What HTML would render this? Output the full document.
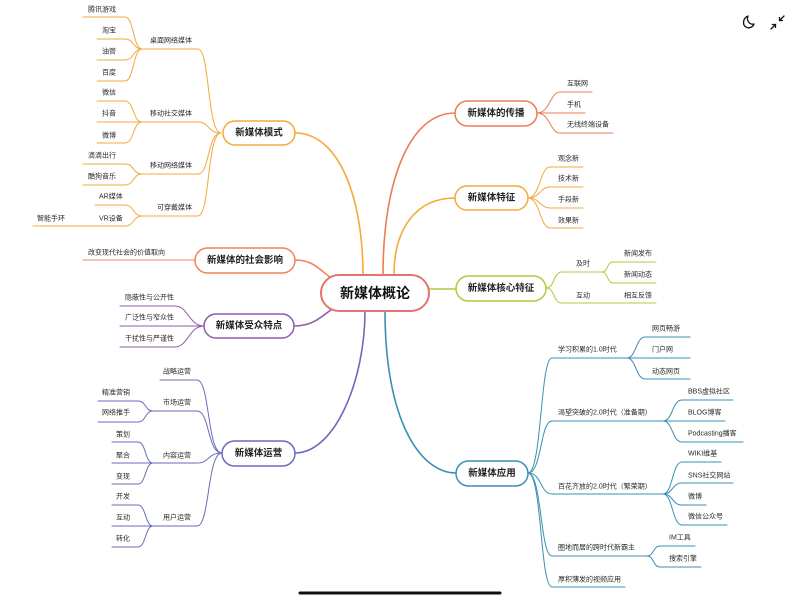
<!DOCTYPE html>
<html><head><meta charset="utf-8"><style>
html,body{margin:0;padding:0;background:#fff;}
svg{display:block;}
text{font-family:"Liberation Sans","Noto Sans CJK SC",sans-serif;fill:#2a2a2a;}
.l{font-size:7px;}
.m{font-size:9.5px;font-weight:bold;fill:#222;}
</style></head><body>
<svg width="800" height="600" viewBox="0 0 800 600" xmlns="http://www.w3.org/2000/svg">
<g fill="none" stroke-linecap="round">
<!-- main branches -->
<path d="M295 133 C340 133 363 200 363 275" stroke="#f5a83c" stroke-width="1.6"/>
<path d="M455 113 C410 113 383 180 383 275" stroke="#ec7c55" stroke-width="1.6"/>
<path d="M455 198 C415 198 394 230 394 275" stroke="#f5a83c" stroke-width="1.6"/>
<path d="M429 289 L456 289" stroke="#b3c83a" stroke-width="1.6"/>
<path d="M385 311 C385 420 420 473 456 473" stroke="#3b8fb5" stroke-width="1.6"/>
<path d="M295 453 C335 453 365 380 365 311" stroke="#6a6ac0" stroke-width="1.6"/>
<path d="M294 326 C312 326 320 318 332 309" stroke="#8f5aa8" stroke-width="1.6"/>
<path d="M295 260 C312 260 318 268 331 278" stroke="#f0845c" stroke-width="1.6"/>

<!-- 新媒体模式 -->
<g stroke="#f5a83c" stroke-width="1">
<path d="M142 49 H198 C210 49 207 133 221 133"/>
<path d="M142 122 H198 C210 122 207 133 221 133"/>
<path d="M142 174 H198 C210 174 207 133 221 133"/>
<path d="M142 216 H198 C210 216 207 133 221 133"/>
<path d="M83 17 H125 C134 17 133 49 142 49"/>
<path d="M97 39 H125 C134 39 133 49 142 49"/>
<path d="M97 60 H125 C134 60 133 49 142 49"/>
<path d="M97 81 H125 C134 81 133 49 142 49"/>
<path d="M97 101 H125 C134 101 133 122 142 122"/>
<path d="M97 122 H142"/>
<path d="M97 143 H125 C134 143 133 122 142 122"/>
<path d="M83 164 H125 C134 164 133 174 142 174"/>
<path d="M83 185 H125 C134 185 133 174 142 174"/>
<path d="M95 205 H125 C134 205 133 216 142 216"/>
<path d="M33 226 H125 C134 226 133 216 142 216"/>
</g>
<!-- 社会影响 -->
<path d="M83 260 H195" stroke="#f0845c" stroke-width="1"/>
<!-- 受众特点 -->
<g stroke="#8f5aa8" stroke-width="1">
<path d="M120 306 H175 C188 306 189 326 204 326"/>
<path d="M120 326 H204"/>
<path d="M120 347 H175 C188 347 189 326 204 326"/>
</g>
<!-- 运营 -->
<g stroke="#6a6ac0" stroke-width="1">
<path d="M160 380 H197 C210 380 207 453 222 453"/>
<path d="M153 411 H197 C210 411 207 453 222 453"/>
<path d="M153 463 H197 C210 463 207 453 222 453"/>
<path d="M153 526 H197 C210 526 207 453 222 453"/>
<path d="M98 401 H138 C146 401 145 411 153 411"/>
<path d="M98 422 H138 C146 422 145 411 153 411"/>
<path d="M112 442 H138 C146 442 145 463 153 463"/>
<path d="M112 463 H153"/>
<path d="M112 484 H138 C146 484 145 463 153 463"/>
<path d="M112 505 H138 C146 505 145 526 153 526"/>
<path d="M112 526 H153"/>
<path d="M112 547 H138 C146 547 145 526 153 526"/>
</g>
<!-- 传播 -->
<g stroke="#ec7c55" stroke-width="1">
<path d="M537 113 C550 113 550 92 560 92 H592"/>
<path d="M537 113 H585"/>
<path d="M537 113 C550 113 550 133 560 133 H613"/>
</g>
<!-- 特征 -->
<g stroke="#f5a83c" stroke-width="1">
<path d="M528 198 C540 198 540 167 550 167 H583"/>
<path d="M528 198 C540 198 540 187 550 187 H583"/>
<path d="M528 198 C540 198 540 208 550 208 H583"/>
<path d="M528 198 C540 198 540 228 550 228 H583"/>
</g>
<!-- 核心特征 -->
<g stroke="#b3c83a" stroke-width="1">
<path d="M546 288 C555 288 553 272 562 272 H602 C608 272 607 262 613 262 H656"/>
<path d="M602 272 C608 272 607 283 613 283 H656"/>
<path d="M546 288 C555 288 553 303 562 303 H656"/>
</g>
<!-- 应用 -->
<g stroke="#3b8fb5" stroke-width="1">
<path d="M528 473 C542 473 540 358 552 358 H627"/>
<path d="M528 473 C542 473 540 421 552 421 H663"/>
<path d="M528 473 C542 473 540 494 552 494 H663"/>
<path d="M528 473 C542 473 540 556 552 556 H647"/>
<path d="M528 473 C542 473 540 587 552 587 H625"/>
<path d="M627 358 C636 358 636 337 645 337 H690"/>
<path d="M627 358 H690"/>
<path d="M627 358 C636 358 636 379 645 379 H690"/>
<path d="M663 421 C673 421 672 400 682 400 H733"/>
<path d="M663 421 H725"/>
<path d="M663 421 C673 421 672 442 682 442 H743"/>
<path d="M663 494 C673 494 672 462 682 462 H721"/>
<path d="M663 494 C673 494 672 483 682 483 H733"/>
<path d="M663 494 C673 494 672 505 682 505 H706"/>
<path d="M663 494 C673 494 672 525 682 525 H727"/>
<path d="M647 556 C654 556 653 546 660 546 H695"/>
<path d="M647 556 C654 556 653 567 660 567 H701"/>
</g>
</g>

<!-- nodes -->
<g fill="#fff" stroke-width="1.5">
<rect x="321" y="275" width="108" height="36" rx="18" stroke="#e5736f" stroke-width="2"/>
<rect x="223" y="121" width="72" height="24" rx="12" stroke="#f5a83c"/>
<rect x="195" y="248" width="100" height="25" rx="12.5" stroke="#f0845c"/>
<rect x="204" y="314" width="90" height="24" rx="12" stroke="#8f5aa8"/>
<rect x="222" y="441" width="73" height="25" rx="12.5" stroke="#6a6ac0"/>
<rect x="455" y="101" width="82" height="25" rx="12.5" stroke="#ec7c55"/>
<rect x="455" y="186" width="73" height="24" rx="12" stroke="#f5a83c"/>
<rect x="456" y="276" width="90" height="25" rx="12.5" stroke="#b3c83a"/>
<rect x="456" y="461" width="72" height="25" rx="12.5" stroke="#3b8fb5"/>
</g>
<g text-anchor="middle" dominant-baseline="central">
<text x="375" y="293" style="font-size:14px;font-weight:bold;fill:#111">新媒体概论</text>
<text class="m" x="259" y="133">新媒体模式</text>
<text class="m" x="245" y="260.5">新媒体的社会影响</text>
<text class="m" x="249" y="326">新媒体受众特点</text>
<text class="m" x="258.5" y="453.5">新媒体运营</text>
<text class="m" x="496" y="113.5">新媒体的传播</text>
<text class="m" x="491.5" y="198">新媒体特征</text>
<text class="m" x="501" y="288.5">新媒体核心特征</text>
<text class="m" x="492" y="473.5">新媒体应用</text>
</g>

<g dominant-baseline="central">
<text class="l" x="150" y="41">桌面网络媒体</text>
<text class="l" x="150" y="114">移动社交媒体</text>
<text class="l" x="150" y="166">移动网络媒体</text>
<text class="l" x="157" y="208">可穿戴媒体</text>
<text class="l" x="88" y="10">腾讯游戏</text>
<text class="l" x="102" y="31">淘宝</text>
<text class="l" x="102" y="52">油管</text>
<text class="l" x="102" y="73">百度</text>
<text class="l" x="102" y="93">微信</text>
<text class="l" x="102" y="114">抖音</text>
<text class="l" x="102" y="136">微博</text>
<text class="l" x="88" y="156">滴滴出行</text>
<text class="l" x="88" y="177">酷狗音乐</text>
<text class="l" x="99" y="197">AR媒体</text>
<text class="l" x="99" y="219">VR设备</text>
<text class="l" x="37" y="219">智能手环</text>

<text class="l" x="88" y="253">改变现代社会的价值取向</text>

<text class="l" x="125" y="298">隐蔽性与公开性</text>
<text class="l" x="125" y="318">广泛性与窄众性</text>
<text class="l" x="125" y="339">干扰性与严谨性</text>

<text class="l" x="163" y="372">战略运营</text>
<text class="l" x="163" y="403">市场运营</text>
<text class="l" x="163" y="456">内容运营</text>
<text class="l" x="163" y="518">用户运营</text>
<text class="l" x="102" y="393">精准营销</text>
<text class="l" x="102" y="413">网络推手</text>
<text class="l" x="116" y="435">策划</text>
<text class="l" x="116" y="456">聚合</text>
<text class="l" x="116" y="477">变现</text>
<text class="l" x="116" y="497">开发</text>
<text class="l" x="116" y="518">互动</text>
<text class="l" x="116" y="539">转化</text>

<text class="l" x="567" y="84">互联网</text>
<text class="l" x="567" y="105">手机</text>
<text class="l" x="567" y="125">无线终端设备</text>

<text class="l" x="558" y="159">观念新</text>
<text class="l" x="558" y="179">技术新</text>
<text class="l" x="558" y="200">手段新</text>
<text class="l" x="558" y="221">效果新</text>

<text class="l" x="576" y="264">及时</text>
<text class="l" x="576" y="296">互动</text>
<text class="l" x="624" y="254">新闻发布</text>
<text class="l" x="624" y="275">新闻动态</text>
<text class="l" x="624" y="296">相互反馈</text>

<text class="l" x="558" y="350">学习积累的1.0时代</text>
<text class="l" x="558" y="413">渴望突破的2.0时代（准备期）</text>
<text class="l" x="558" y="487">百花齐放的2.0时代（繁荣期）</text>
<text class="l" x="558" y="548">圈地而居的跨时代新霸主</text>
<text class="l" x="558" y="580">厚积薄发的视频应用</text>
<text class="l" x="652" y="329">网页畅游</text>
<text class="l" x="652" y="350">门户网</text>
<text class="l" x="652" y="372">动态网页</text>
<text class="l" x="688" y="392">BBS虚拟社区</text>
<text class="l" x="688" y="413">BLOG博客</text>
<text class="l" x="688" y="434">Podcasting播客</text>
<text class="l" x="688" y="454">WIKI维基</text>
<text class="l" x="688" y="476">SNS社交网站</text>
<text class="l" x="688" y="497">微博</text>
<text class="l" x="688" y="517">微信公众号</text>
<text class="l" x="669" y="538">IM工具</text>
<text class="l" x="669" y="559">搜索引擎</text>
</g>

<!-- icons -->
<path d="M748 16 C743 18 742 25 746 27 C749 29 753 27 754 24 C750 25 746 21 748 16 Z" fill="none" stroke="#111" stroke-width="1.3" stroke-linejoin="round"/>
<g stroke="#111" stroke-width="1.3" fill="none" stroke-linecap="round" stroke-linejoin="round">
<path d="M784 16 L779.5 20.5"/><path d="M779.5 17.5 V20.5 H782.5"/>
<path d="M771 29 L775.5 24.5"/><path d="M772.5 24.5 H775.5 V27.5"/>
</g>
<line x1="300" y1="593" x2="500" y2="593" stroke="#111" stroke-width="3" stroke-linecap="round"/>
</svg>
</body></html>
